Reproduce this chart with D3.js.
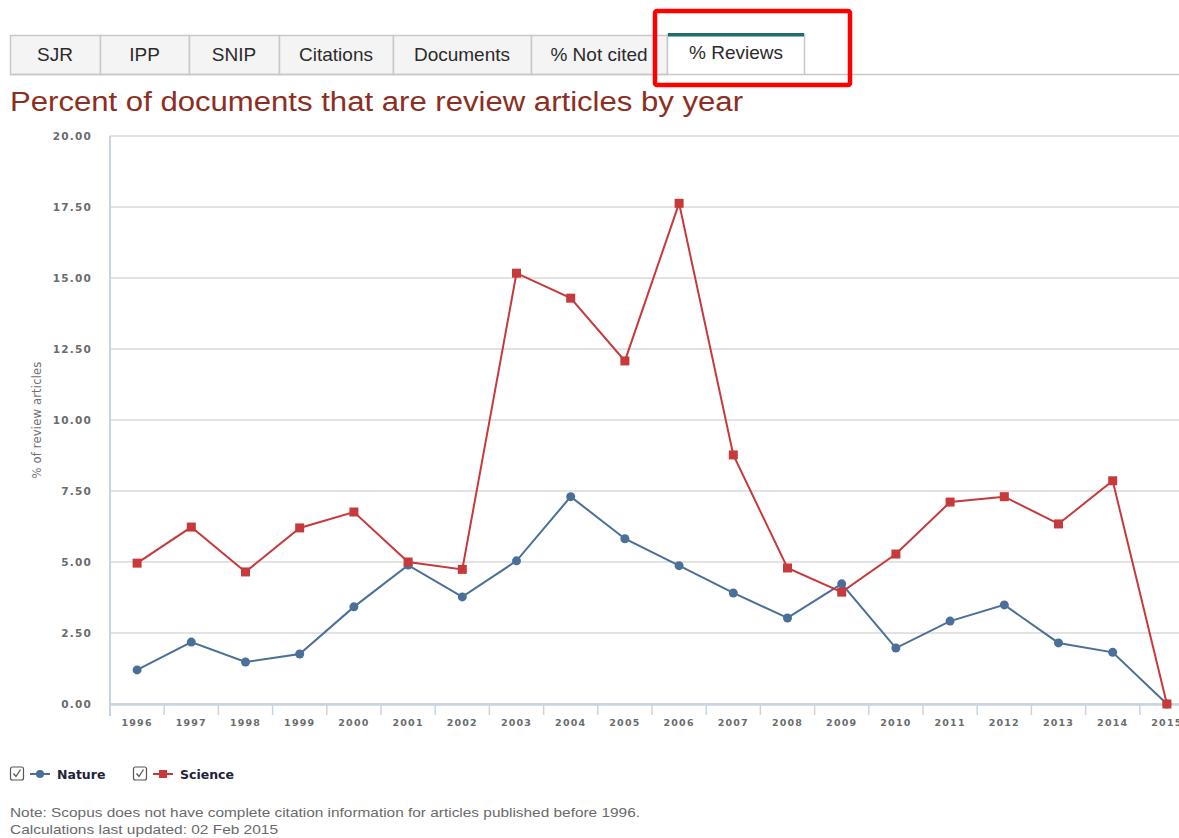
<!DOCTYPE html>
<html><head><meta charset="utf-8">
<script src="https://cdn.jsdelivr.net/npm/d3@7/dist/d3.min.js"></script>
<style>
html,body{margin:0;padding:0;background:#fff;}
svg{display:block;}
</style></head>
<body>
<svg id="c" width="1179" height="838"></svg>
<script>
const years = ["1996","1997","1998","1999","2000","2001","2002","2003","2004","2005","2006","2007","2008","2009","2010","2011","2012","2013","2014","2015"];
const natureValues = [1.20,2.18,1.48,1.76,3.42,4.89,3.77,5.04,7.30,5.82,4.87,3.91,3.03,4.23,1.97,2.92,3.49,2.15,1.82,0.00];
const scienceValues = [4.96,6.23,4.65,6.20,6.76,5.00,4.74,15.17,14.29,12.08,17.63,8.77,4.79,3.94,5.28,7.11,7.30,6.34,7.86,0.00];
const yTicks = [0,2.5,5,7.5,10,12.5,15,17.5,20];
const tabs = ["SJR","IPP","SNIP","Citations","Documents","% Not cited","% Reviews"];
const seriesNames = ["Nature","Science"];
const titleText = "Percent of documents that are review articles by year";
const yAxisTitle = "% of review articles";
const noteLines = ["Note: Scopus does not have complete citation information for articles published before 1996.","Calculations last updated: 02 Feb 2015"];

(function(){
const svg = d3.select("#c");
const blue = "#4a6f98", red = "#c63a3c";

// Tabs
const tabEdges = [10,100,189,279,393,531,667,805];
const tg = svg.append("g");
tabs.forEach((t,i)=>{
  const x0 = tabEdges[i], x1 = tabEdges[i+1];
  const active = i === tabs.length-1;
  tg.append("rect").attr("x",x0+0.5).attr("y",active?34.5:35.5).attr("width",x1-x0-(active?1:0)).attr("height",active?40:39)
    .attr("fill",active?"#fff":"#f4f4f4").attr("stroke","#c8c8c8").attr("stroke-width",1.5);
  if(active){
    tg.append("rect").attr("x",x0+1).attr("y",33).attr("width",x1-x0-2).attr("height",3.5).attr("fill","#1f6b6e");
  }
  tg.append("text").attr("x",(x0+x1)/2).attr("y",active?59:61).attr("text-anchor","middle")
    .attr("font-family","Liberation Sans, Arial, sans-serif").attr("font-size",19).attr("fill","#2b2b2b").text(t);
});
tg.append("line").attr("x1",10).attr("x2",667).attr("y1",74.5).attr("y2",74.5).attr("stroke","#c8c8c8").attr("stroke-width",1.5);
tg.append("line").attr("x1",805).attr("x2",1179).attr("y1",74.5).attr("y2",74.5).attr("stroke","#c8c8c8").attr("stroke-width",1.5);
svg.append("rect").attr("x",655).attr("y",11).attr("width",195).attr("height",74).attr("rx",2)
  .attr("fill","none").attr("stroke","#ff0000").attr("stroke-width",4.5);

// Title
svg.append("text").attr("x",10).attr("y",111).attr("font-family","Liberation Sans, Arial, sans-serif")
  .attr("font-size",27).attr("fill","#8c2e22").attr("textLength",733).attr("lengthAdjust","spacingAndGlyphs").text(titleText);

// Plot
const pLeft = 110, pTop = 136, pBottom = 704;
const x = d3.scaleBand().domain(years).range([pLeft, pLeft + 54.2*years.length]).padding(0);
const y = d3.scaleLinear().domain([0,20]).range([pBottom, pTop]);

svg.append("g").selectAll("line").data(yTicks).join("line")
  .attr("x1",pLeft).attr("x2",1179).attr("y1",d=>y(d)).attr("y2",d=>y(d))
  .attr("stroke","#e2e2e2").attr("stroke-width",2);

const yAxis = svg.append("g").attr("transform",`translate(${pLeft},0)`)
  .call(d3.axisLeft(y).tickValues(yTicks).tickFormat(d3.format(".2f")).tickSize(0).tickPadding(18));
yAxis.select(".domain").remove();
yAxis.selectAll("text").attr("font-family","DejaVu Sans, Verdana, sans-serif").attr("font-size",10.5)
  .attr("font-weight","bold").attr("fill","#6b6b6b").attr("letter-spacing","1.2px");
svg.append("line").attr("x1",pLeft).attr("x2",pLeft).attr("y1",pTop).attr("y2",716).attr("stroke","#c8d4e2").attr("stroke-width",2);

const xAxis = svg.append("g").attr("transform",`translate(0,${pBottom})`)
  .call(d3.axisBottom(x).tickSize(0).tickPadding(15));
xAxis.select(".domain").attr("stroke","#c8d4e2").attr("stroke-width",2.5);
xAxis.selectAll("text").attr("font-family","DejaVu Sans, Verdana, sans-serif").attr("font-size",9.5)
  .attr("font-weight","bold").attr("fill","#6b6b6b").attr("letter-spacing","1.2px");
svg.append("g").selectAll("line").data(years.slice(1)).join("line")
  .attr("x1",d=>x(d)).attr("x2",d=>x(d)).attr("y1",pBottom).attr("y2",pBottom+11)
  .attr("stroke","#c8d4e2").attr("stroke-width",1.5);

svg.append("text").attr("transform",`translate(41,420) rotate(-90)`).attr("text-anchor","middle")
  .attr("font-family","DejaVu Sans, Verdana, sans-serif").attr("font-size",11.5).attr("fill","#6f6f6f")
  .attr("letter-spacing","0.2px").text(yAxisTitle);

const cx = d => x(d) + x.bandwidth()/2;
const line = d3.line().x((d,i)=>cx(years[i])).y(d=>y(d));
svg.append("path").datum(natureValues).attr("d",line).attr("fill","none").attr("stroke",blue).attr("stroke-width",2);
svg.append("path").datum(scienceValues).attr("d",line).attr("fill","none").attr("stroke",red).attr("stroke-width",2);
svg.append("g").selectAll("circle").data(natureValues).join("circle")
  .attr("cx",(d,i)=>cx(years[i])).attr("cy",d=>y(d)).attr("r",4.5).attr("fill",blue);
svg.append("g").selectAll("rect").data(scienceValues).join("rect")
  .attr("x",(d,i)=>cx(years[i])-4.5).attr("y",d=>y(d)-4.5).attr("width",9).attr("height",9).attr("fill",red);

const lg = svg.append("g");
const legendX = [10,133];
seriesNames.forEach((name,i)=>{
  const lx = legendX[i], ly = 774;
  const col = i===0?blue:red;
  lg.append("rect").attr("x",lx+0.5).attr("y",ly-7).attr("width",13).attr("height",13).attr("rx",2)
    .attr("fill","#fff").attr("stroke","#555").attr("stroke-width",1.2);
  lg.append("path").attr("d",`M${lx+3.5},${ly-0.5} L${lx+6},${ly+2.5} L${lx+10.5},${ly-4.5}`)
    .attr("fill","none").attr("stroke","#555").attr("stroke-width",1.3);
  lg.append("line").attr("x1",lx+20).attr("x2",lx+40).attr("y1",ly).attr("y2",ly).attr("stroke",col).attr("stroke-width",2);
  if(i===0) lg.append("circle").attr("cx",lx+30).attr("cy",ly).attr("r",4).attr("fill",col);
  else lg.append("rect").attr("x",lx+26).attr("y",ly-4).attr("width",8).attr("height",8).attr("fill",col);
  lg.append("text").attr("x",lx+47).attr("y",ly+4.5).attr("font-family","DejaVu Sans, Verdana, sans-serif")
    .attr("font-size",12.5).attr("font-weight","bold").attr("fill","#22223a").text(name);
});

svg.append("text").attr("x",10).attr("y",817).attr("font-family","Liberation Sans, Arial, sans-serif")
  .attr("font-size",13.5).attr("fill","#6a6a6a").attr("textLength",630).attr("lengthAdjust","spacingAndGlyphs").text(noteLines[0]);
svg.append("text").attr("x",10).attr("y",834).attr("font-family","Liberation Sans, Arial, sans-serif")
  .attr("font-size",13.5).attr("fill","#6a6a6a").attr("textLength",268).attr("lengthAdjust","spacingAndGlyphs").text(noteLines[1]);
})();
</script>
</body></html>
